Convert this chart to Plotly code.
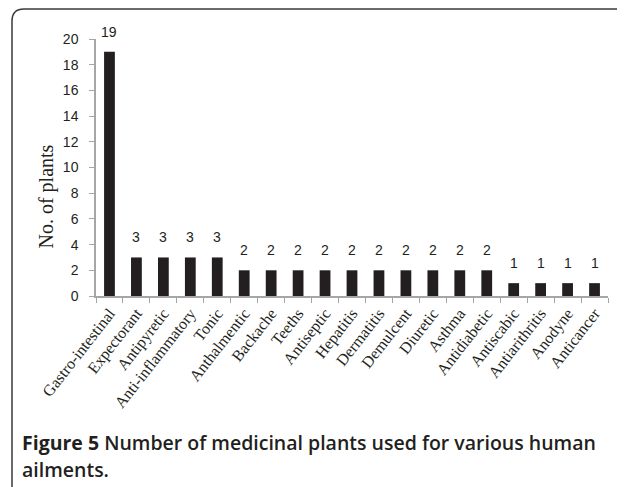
import plotly.graph_objects as go

categories = ["Gastro-intestinal", "Expectorant", "Antipyretic", "Anti-inflammatory", "Tonic",
              "Anthalmentic", "Backache", "Teeths", "Antiseptic", "Hepatitis", "Dermatitis",
              "Demulcent", "Diuretic", "Asthma", "Antidiabetic", "Antiscabic", "Antiarithritis",
              "Anodyne", "Anticancer"]
values = [19, 3, 3, 3, 3, 2, 2, 2, 2, 2, 2, 2, 2, 2, 2, 1, 1, 1, 1]
y_ticks = [0, 2, 4, 6, 8, 10, 12, 14, 16, 18, 20]

OFF = 8  # page body margin
W, H = 625 - OFF, 487 - OFF
L, T = 96 - OFF, 39 - OFF
R = W - (608 - OFF)
B = H - (296 - OFF)
pw = W - L - R
ph = H - T - B

def px(x):
    return (x - OFF - L) / pw

def py(y):
    return (H - B - (y - OFF)) / ph

dark = "#231f20"
grey = "#a6a6a6"

fig = go.Figure()
fig.add_trace(go.Bar(x=categories, y=values, marker=dict(color=dark, line=dict(width=0)),
                     width=0.4, hoverinfo="x+y"))

annotations = []
for c, v in zip(categories, values):
    annotations.append(dict(x=c, y=v, xref="x", yref="y", text=str(v), showarrow=False,
                            yanchor="bottom", yshift=10,
                            font=dict(family="Liberation Sans, Arial", size=14, color=dark)))

annotations.append(dict(x=px(45.5), y=py(197), xref="paper", yref="paper", text="No. of plants",
                        textangle=-90, showarrow=False, xanchor="center", yanchor="middle",
                        font=dict(family="Liberation Serif, Times New Roman", size=20, color=dark)))
annotations.append(dict(x=px(20), y=py(442), xref="paper", yref="paper",
                        text="<b>Figure 5</b> Number of medicinal plants used for various human",
                        showarrow=False, xanchor="left", yanchor="middle", align="left",
                        font=dict(family="Open Sans", size=19.5, color=dark, weight=600)))
annotations.append(dict(x=px(20), y=py(469), xref="paper", yref="paper",
                        text="ailments.",
                        showarrow=False, xanchor="left", yanchor="middle", align="left",
                        font=dict(family="Open Sans", size=19.5, color=dark, weight=600)))

# frame with rounded top-left corner
x0 = px(12)
yt = py(9)
xr = px(650)
yb = py(520)
rx = 12 / pw
ry = 12 / ph
path = (f"M {x0},{yb} L {x0},{yt - ry} Q {x0},{yt} {x0 + rx},{yt} L {xr},{yt}")

fig.update_layout(
    width=W, height=H,
    margin=dict(l=L, r=R, t=T, b=B),
    paper_bgcolor="white", plot_bgcolor="white",
    showlegend=False,
    bargap=0.6,
    annotations=annotations,
    shapes=[dict(type="path", path=path, xref="paper", yref="paper",
                 line=dict(color="#3a3a3a", width=1.5))],
    xaxis=dict(type="category", showline=True, linecolor=grey, linewidth=1.5,
               ticks="outside", ticklen=5, tickcolor=grey, tickwidth=1, tickson="boundaries",
               tickangle=-52, showgrid=False, zeroline=False, automargin=False,
               tickfont=dict(family="Liberation Serif, Times New Roman", size=16, color=dark)),
    yaxis=dict(range=[0, 20], tickvals=y_ticks, showline=True, linecolor=grey, linewidth=1.5,
               ticks="outside", ticklen=5, tickcolor=grey, tickwidth=1, showgrid=False,
               zeroline=False, ticklabelstandoff=8, automargin=False,
               tickfont=dict(family="Liberation Sans, Arial", size=14, color=dark)),
)

fig.write_html("out.html")
